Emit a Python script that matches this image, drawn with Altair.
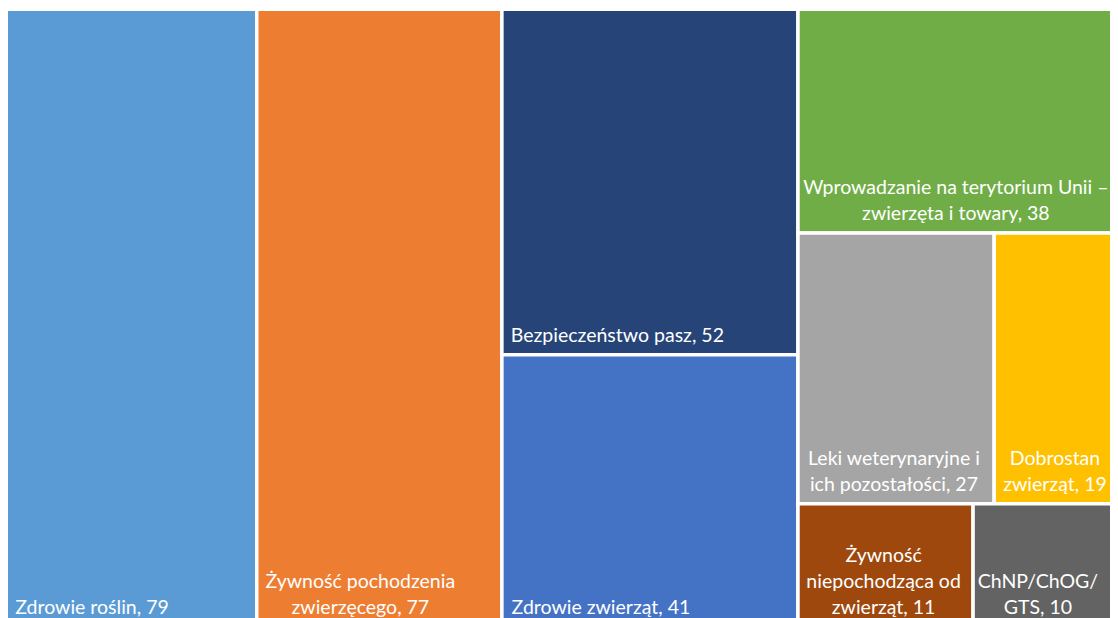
import math
import altair as alt
import pandas as pd

# ---- data -------------------------------------------------------------
names = [
    "Zdrowie roślin",
    "Żywność pochodzenia\nzwierzęcego",
    "Bezpieczeństwo pasz",
    "Zdrowie zwierząt",
    "Wprowadzanie na terytorium Unii –\nzwierzęta i towary",
    "Leki weterynaryjne i\nich pozostałości",
    "Dobrostan\nzwierząt",
    "Żywność\nniepochodząca od\nzwierząt",
    "ChNP/ChOG/\nGTS",
]
values = [79, 77, 52, 41, 38, 27, 19, 11, 10]
colors = ["#5B9BD5", "#ED7D31", "#264478", "#4472C4", "#70AD47",
          "#A5A5A5", "#FFC000", "#9E480E", "#636363"]

# ---- treemap layout (strip/squarify variant preferring slightly tall cells) ----
TW, TH = 1127.0, 618.0   # treemap extent (extends past the visible window)
TARGET = 1.3             # preferred height/width ratio of a cell


def layout(vals, x, y, w, h):
    rects = []
    i = 0
    while i < len(vals):
        rem = vals[i:]
        s = float(sum(rem))
        vertical = w >= h

        def score(row):
            rs = float(sum(row))
            if vertical:
                cw = w * rs / s
                return max(abs(math.log((h * v / rs) / cw / TARGET)) for v in row)
            rh = h * rs / s
            return max(abs(math.log(rh / (w * v / rs) / TARGET)) for v in row)

        row = [rem[0]]
        best = score(row)
        for v in rem[1:]:
            sc = score(row + [v])
            if sc < best:
                row.append(v)
                best = sc
            else:
                break
        rs = float(sum(row))
        if vertical:
            cw = w * rs / s
            yy = y
            for v in row:
                ch = h * v / rs
                rects.append((x, yy, x + cw, yy + ch))
                yy += ch
            x += cw
            w -= cw
        else:
            rh = h * rs / s
            xx = x
            for v in row:
                cw = w * v / rs
                rects.append((xx, y, xx + cw, y + rh))
                xx += cw
            y += rh
            h -= rh
        i += len(row)
    return rects


FS = 19.5
LH = 26
# rough Lato glyph widths (em) used to centre wrapped label lines
_W = {"a": .49, "b": .54, "c": .45, "d": .54, "e": .50, "f": .31, "g": .49, "h": .54,
      "i": .23, "j": .23, "k": .49, "l": .23, "m": .81, "n": .54, "o": .54, "p": .54,
      "q": .54, "r": .35, "s": .42, "t": .34, "u": .54, "v": .49, "w": .75, "x": .48,
      "y": .49, "z": .44, " ": .26, ",": .22, "/": .38, "–": .50, "W": .96, "M": .8}


def text_w(line):
    tot = 0.0
    for ch in line:
        base = ch
        for a, b in zip("ąćęłńóśźżĄĆĘŁŃÓŚŹŻ", "acelnoszzACELNOSZZ"):
            if ch == a:
                base = b
        if base.isdigit():
            tot += .58
        elif base in _W:
            tot += _W[base]
        elif base.isupper():
            tot += .62
        else:
            tot += .5
    return tot * FS * 1.03


PW, PH = 1102, 610
X0, Y0 = 2.75, -1.25
VIS_RIGHT = X0 + PW

rects = layout(values, 0.0, 0.0, TW, TH)
rows = []
for n, v, c, (x0, y0, x1, y1) in zip(names, values, colors, rects):
    label = f"{n}, {v}"
    lines = label.split("\n")
    bw = max(text_w(l) for l in lines)
    tx = min(x0 + 9 + bw / 2, VIS_RIGHT - 3 - bw / 2)
    rows.append({"key": n, "label": label, "value": v, "x0": x0, "y0": y0,
                 "x1": x1, "y1": y1, "tx": tx,
                 "ty": y1 - 13 - (len(lines) - 1) * LH})
df = pd.DataFrame(rows)

xs = alt.Scale(domain=[X0, X0 + PW], nice=False, zero=False)
ys = alt.Scale(domain=[Y0, Y0 + PH], nice=False, zero=False, reverse=True)

base = alt.Chart(df)
rect = base.mark_rect(stroke="white", strokeWidth=3.5, clip=True).encode(
    x=alt.X("x0:Q", scale=xs, axis=None),
    x2="x1:Q",
    y=alt.Y("y0:Q", scale=ys, axis=None),
    y2="y1:Q",
    color=alt.Color("key:N", scale=alt.Scale(domain=names, range=colors), legend=None),
)
text = base.mark_text(
    font="Lato", fontSize=FS, color="white", align="center", baseline="alphabetic",
    lineBreak="\n", lineHeight=LH,
).encode(
    x=alt.X("tx:Q", scale=xs, axis=None),
    y=alt.Y("ty:Q", scale=ys, axis=None),
    text="label:N",
)

chart = (rect + text).properties(
    width=PW, height=PH, padding=0, autosize=alt.AutoSizeParams(type="none"),
    background="white",
).configure_view(strokeWidth=0)

chart.save("out.html", embed_options={"renderer": "svg", "actions": False})
